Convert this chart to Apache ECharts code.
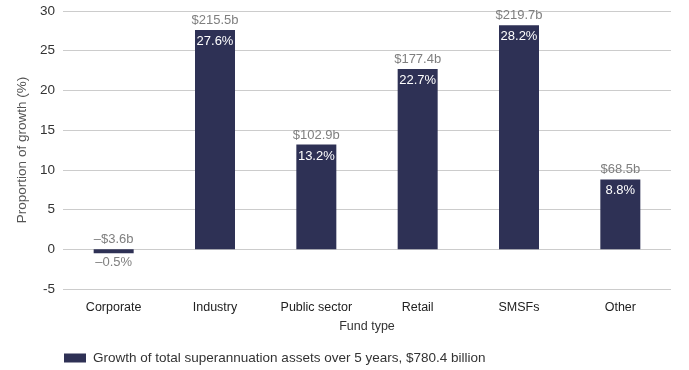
<!DOCTYPE html>
<html>
<head>
<meta charset="utf-8">
<script src="https://cdn.jsdelivr.net/npm/echarts@6/dist/echarts.min.js"></script>
<style>html,body{margin:0;padding:0;background:#fff;}#c{width:689px;height:370px;}</style>
</head>
<body>
<div id="c"></div>
<script>
var categories = ['Corporate', 'Industry', 'Public sector', 'Retail', 'SMSFs', 'Other'];
var growthPct = [-0.5, 27.6, 13.2, 22.7, 28.2, 8.8];
var growthDollars = ['–$3.6b', '$215.5b', '$102.9b', '$177.4b', '$219.7b', '$68.5b'];
var pctLabels = ['–0.5%', '27.6%', '13.2%', '22.7%', '28.2%', '8.8%'];
var seriesName = 'Growth of total superannuation assets over 5 years, $780.4 billion';

var FONT = 'Liberation Sans, Arial, sans-serif';
var barColor = '#2e3155';

var chart = echarts.init(document.getElementById('c'), null, {renderer: 'canvas'});

var mainData = growthPct.map(function (v, i) {
  var d = {value: v};
  if (v < 0) {
    d.label = {position: 'bottom', distance: 3, color: '#7f7f7f'};
  }
  return d;
});

chart.setOption({
  animation: false,
  textStyle: {fontFamily: FONT},
  grid: {left: 63, right: 18, top: 11, bottom: 81, containLabel: false},
  legend: {
    show: true,
    left: 59,
    top: 346,
    itemWidth: 22,
    itemHeight: 9,
    itemGap: 10,
    textStyle: {fontFamily: FONT, fontSize: 13.5, color: '#333', padding: [0, 0, 0, 2]},
    data: [{name: seriesName, icon: 'rect'}]
  },
  xAxis: {
    type: 'category',
    data: categories,
    name: 'Fund type',
    nameLocation: 'middle',
    nameGap: 31,
    nameTextStyle: {fontFamily: FONT, fontSize: 12.5, color: '#333'},
    axisLine: {show: false},
    axisTick: {show: false},
    axisLabel: {fontFamily: FONT, fontSize: 12.5, color: '#222', margin: 12}
  },
  yAxis: {
    type: 'value',
    min: -5,
    max: 30,
    interval: 5,
    name: 'Proportion of growth (%)',
    nameLocation: 'middle',
    nameGap: 34,
    nameTextStyle: {fontFamily: FONT, fontSize: 13.5, color: '#555'},
    axisLine: {show: false},
    axisTick: {show: false},
    axisLabel: {fontFamily: FONT, fontSize: 13.5, color: '#333', margin: 8},
    splitLine: {lineStyle: {color: '#cccccc', width: 1}}
  },
  series: [
    {
      name: seriesName,
      type: 'bar',
      data: mainData,
      barWidth: 40,
      itemStyle: {color: barColor},
      label: {
        show: true,
        position: 'insideTop',
        distance: 5,
        fontFamily: FONT,
        fontSize: 13,
        color: '#ffffff',
        formatter: function (p) { return pctLabels[p.dataIndex]; }
      }
    },
    {
      name: 'dollars',
      type: 'bar',
      data: growthPct.map(function (v) { return {value: v}; }),
      barWidth: 40,
      barGap: '-100%',
      silent: true,
      z: 1,
      itemStyle: {color: 'rgba(0,0,0,0)'},
      label: {
        show: true,
        position: 'top',
        distance: 3,
        fontFamily: FONT,
        fontSize: 13,
        color: '#7f7f7f',
        formatter: function (p) { return growthDollars[p.dataIndex]; }
      }
    }
  ]
});
</script>
</body>
</html>
